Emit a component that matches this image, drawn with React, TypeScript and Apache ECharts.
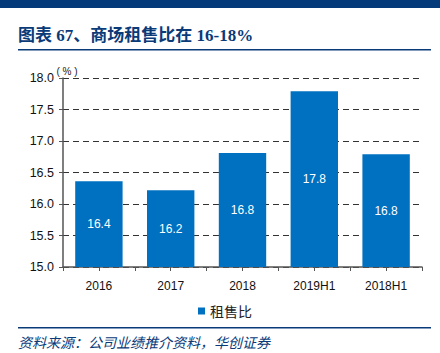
import React, { useEffect, useRef } from "react";
import * as echarts from "echarts";

const categories = ["2016", "2017", "2018", "2019H1", "2018H1"];
const rentRatio = [16.36, 16.22, 16.81, 17.79, 16.79];
const seriesName = "租售比";
const titleText = "图表 67、商场租售比在 16-18%";
const sourceText = "资料来源：公司业绩推介资料，华创证券";

export default function App() {
  const ref = useRef<HTMLDivElement>(null);
  useEffect(() => {
    if (!ref.current) return;
    const chart = echarts.init(ref.current, null, { renderer: "svg" });
    const navy = "#0a3a78";
    chart.setOption({
      animation: false,
      backgroundColor: "#ffffff",
      grid: { left: 63, right: 18, top: 78, bottom: 86 },
      legend: {
        data: [seriesName],
        left: 193,
        top: 299,
        icon: "rect",
        itemWidth: 7,
        itemHeight: 7,
        itemGap: 4,
        textStyle: { fontSize: 14, color: "#222", fontFamily: "Noto Sans CJK SC" },
      },
      xAxis: [
        {
          type: "category",
          data: categories,
          axisLine: { show: true, lineStyle: { color: "#555", width: 1.5 } },
          axisTick: { show: true, alignWithLabel: false, length: 4, lineStyle: { color: "#555" } },
          axisLabel: { color: "#111", fontSize: 12, margin: 13, fontFamily: "Liberation Sans" },
        },
        {
          type: "category",
          data: categories,
          position: "bottom",
          axisLine: { show: false },
          axisTick: { show: true, alignWithLabel: true, length: 4, lineStyle: { color: "#555" } },
          axisLabel: { show: false },
        },
      ],
      yAxis: {
        type: "value",
        min: 15,
        max: 18,
        interval: 0.5,
        axisLine: { show: true, lineStyle: { color: "#555", width: 1.5 } },
        axisTick: { show: true, length: 4, lineStyle: { color: "#555" } },
        axisLabel: {
          color: "#111",
          fontSize: 12.5,
          margin: 9,
          fontFamily: "Liberation Sans",
          formatter: (v: number) => v.toFixed(1),
        },
        splitLine: { show: true, lineStyle: { color: "#333", type: [6, 4], width: 1 } },
      },
      series: [
        {
          name: seriesName,
          type: "bar",
          data: rentRatio,
          barWidth: "66%",
          itemStyle: { color: "#0070c0" },
          label: {
            show: true,
            position: "inside",
            color: "#fff",
            fontSize: 12,
            fontFamily: "Liberation Sans",
            formatter: (p: any) => (Math.round(p.value * 10) / 10).toFixed(1),
          },
        },
      ],
      graphic: [
        { type: "rect", shape: { x: 0, y: 0, width: 440, height: 8 }, style: { fill: "#053a7a" } },
        {
          type: "text",
          x: 18,
          y: 35,
          style: {
            text: titleText,
            fill: navy,
            font: "bold 17px 'Liberation Serif', 'Noto Sans CJK SC'",
            verticalAlign: "middle",
          },
        },
        { type: "rect", shape: { x: 18, y: 49, width: 413, height: 1.5 }, style: { fill: navy } },
        {
          type: "text",
          x: 67,
          y: 71,
          style: {
            text: "( % )",
            fill: "#222",
            font: "10px 'Liberation Sans'",
            align: "center",
            verticalAlign: "middle",
          },
        },
        { type: "rect", shape: { x: 18, y: 327, width: 413, height: 1.5 }, style: { fill: navy } },
        {
          type: "text",
          x: 18,
          y: 342,
          style: {
            text: sourceText,
            fill: navy,
            font: "italic 14px 'Noto Sans CJK SC'",
            verticalAlign: "middle",
          },
        },
      ],
    });
    return () => chart.dispose();
  }, []);
  return (
    <div
      ref={ref}
      style={{ position: "absolute", left: 0, top: 0, width: 440, height: 353 }}
    />
  );
}
